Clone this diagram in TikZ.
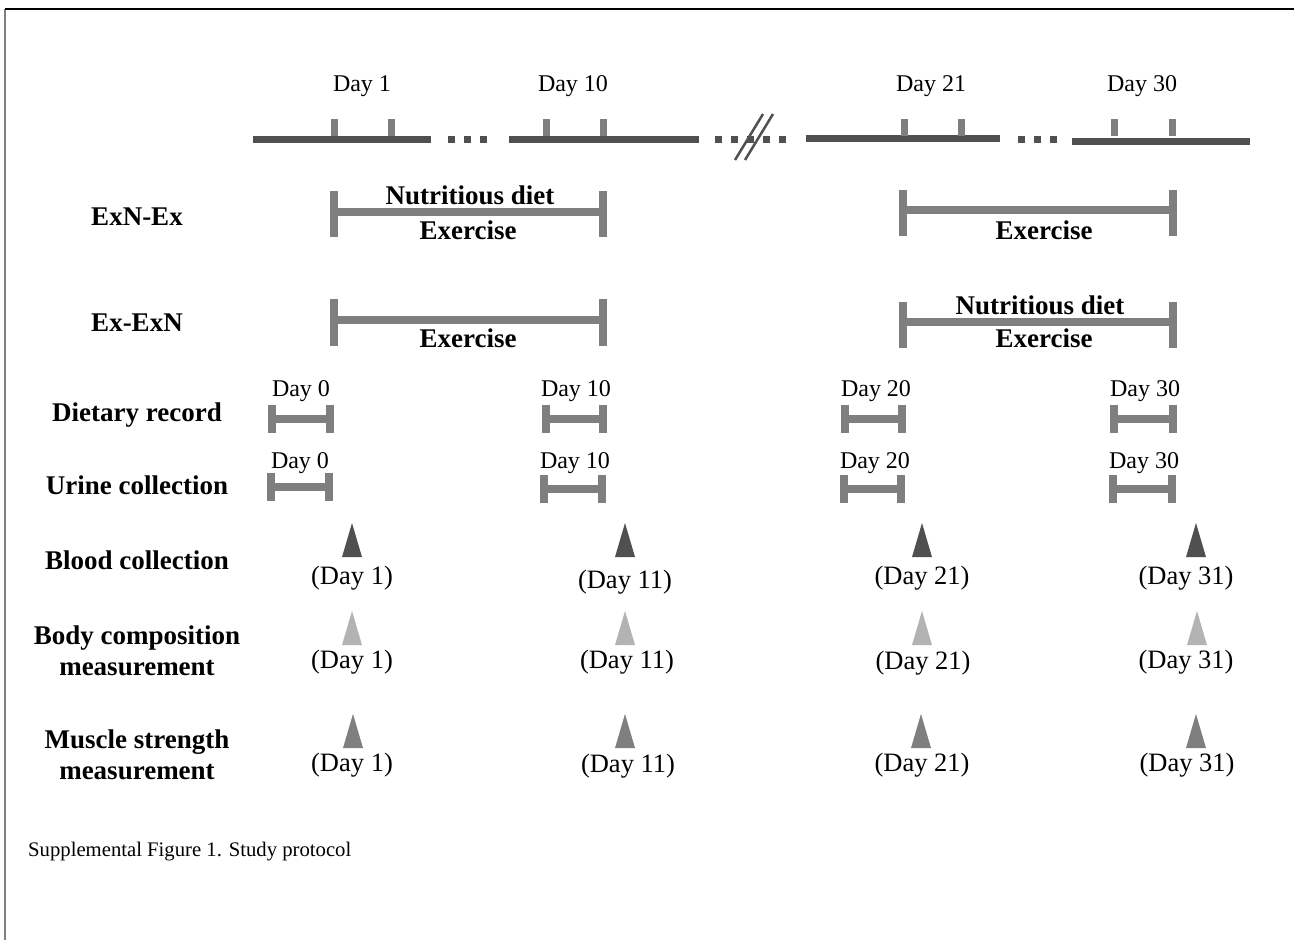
\documentclass[tikz,border=0pt]{standalone}
\usepackage{fontspec}
\setmainfont{Liberation Serif}
\definecolor{tldark}{HTML}{505050}
\definecolor{bargray}{HTML}{7F7F7F}
\definecolor{trilight}{HTML}{B3B3B3}
\tikzset{
  daytxt/.style={font=\fontsize{24}{28}\selectfont, inner sep=0pt},
  partxt/.style={font=\fontsize{26.5}{30}\selectfont, inner sep=0pt},
  rowtxt/.style={font=\bfseries\fontsize{27}{31}\selectfont, align=center, inner sep=0pt},
  tline/.style={draw=tldark, line width=7pt},
  tdots/.style={draw=tldark, line width=7pt, dash pattern=on 7pt off 9pt},
  tick/.style={draw=bargray, line width=7pt},
  brk/.style={draw=bargray, line width=7.5pt}
}
\begin{document}
\begin{tikzpicture}[x=1pt,y=-1pt]
  \useasboundingbox (0,0) rectangle (1294,940);
  % page frame
  \draw[gray, line width=2pt] (5,9) -- (5,940);
  \draw[black, line width=1.5pt] (5,9) -- (1294,9);

  % time line
  \draw[tline] (253,139) -- (431,139);
  \draw[tdots] (448,139) -- (488,139);
  \draw[tline] (509,139) -- (699,139);
  \draw[tdots] (715,139) -- (786,139);
  \draw[tldark, line width=2.5pt] (735,160) -- (763,114) (745,160) -- (773,114);
  \draw[tline] (806,138) -- (1000,138);
  \draw[tdots] (1018,139) -- (1058,139);
  \draw[tline] (1072,141) -- (1250,141);
  \foreach \x in {334,391,546,603,904,961,1114,1172}
    \draw[tick] (\x,119) -- (\x,136);
  \node[daytxt] (t1) at (362,86) {Day 1};
  \node[daytxt] (t10) at (573,86) {Day 10};
  \node[daytxt] (t21) at (931,86) {Day 21};
  \node[daytxt] (t30) at (1142,86) {Day 30};

  % groups
  \node[rowtxt] (exnex) at (137,217) {ExN-Ex};
  \node[rowtxt] (exexn) at (137,323) {Ex-ExN};
  \draw[brk] (334,191) -- (334,237) (334,212) -- (603,212) (603,191) -- (603,237);
  \draw[brk] (903,190) -- (903,236) (903,210) -- (1173,210) (1173,190) -- (1173,236);
  \draw[brk] (334,299) -- (334,346) (334,320) -- (603,320) (603,299) -- (603,346);
  \draw[brk] (903,302) -- (903,348) (903,322) -- (1173,322) (1173,302) -- (1173,348);
  \node[rowtxt] (nd1) at (470,195) {Nutritious diet};
  \node[rowtxt] (ex1) at (468,230) {Exercise};
  \node[rowtxt] (ex2) at (1044,230) {Exercise};
  \node[rowtxt] (ex3) at (468,338) {Exercise};
  \node[rowtxt] (nd4) at (1040,305) {Nutritious diet};
  \node[rowtxt] (ex4) at (1044,338) {Exercise};

  % records
  \node[rowtxt] (diet) at (137,415) {Dietary record};
  \node[rowtxt] (urine) at (137,485) {Urine collection};
  \foreach \a/\b/\y in {272/330/419, 546/603/419, 845/902/419, 1114/1173/419,
                        271/329/487, 544/602/489, 844/901/489, 1113/1172/489}
    \draw[brk] (\a,{\y-14}) -- (\a,{\y+14}) (\a,\y) -- (\b,\y) (\b,{\y-14}) -- (\b,{\y+14});
  \node[daytxt] (r0) at (301,391) {Day 0};
  \node[daytxt] (r10) at (576,391) {Day 10};
  \node[daytxt] (r20) at (876,391) {Day 20};
  \node[daytxt] (r30) at (1145,391) {Day 30};
  \node[daytxt] (u0) at (300,463) {Day 0};
  \node[daytxt] (u10) at (575,463) {Day 10};
  \node[daytxt] (u20) at (875,463) {Day 20};
  \node[daytxt] (u30) at (1144,463) {Day 30};

  % measurements
  \node[rowtxt] (blood) at (137,560) {Blood collection};
  \node[rowtxt] (body) at (137,651) {Body composition\\measurement};
  \node[rowtxt] (muscle) at (137,755) {Muscle strength\\measurement};
  \foreach \x/\y/\c in {352/523/tldark, 625/523/tldark, 922/523/tldark, 1196/523/tldark,
                        352/611/trilight, 625/611/trilight, 922/611/trilight, 1197/611/trilight,
                        353/714/bargray, 625/714/bargray, 921/714/bargray, 1196/714/bargray}
    \fill[\c] ({\x-10},{\y+34}) -- (\x,\y) -- ({\x+10},{\y+34}) -- cycle;
  \node[partxt] (b1) at (352,578) {(Day 1)};
  \node[partxt] (b11) at (625,582) {(Day 11)};
  \node[partxt] (b21) at (922,578) {(Day 21)};
  \node[partxt] (b31) at (1186,578) {(Day 31)};
  \node[partxt] (c1) at (352,662) {(Day 1)};
  \node[partxt] (c11) at (627,662) {(Day 11)};
  \node[partxt] (c21) at (923,663) {(Day 21)};
  \node[partxt] (c31) at (1186,662) {(Day 31)};
  \node[partxt] (m1) at (352,765) {(Day 1)};
  \node[partxt] (m11) at (628,766) {(Day 11)};
  \node[partxt] (m21) at (922,765) {(Day 21)};
  \node[partxt] (m31) at (1187,765) {(Day 31)};

  \node[font=\fontsize{20.7}{24}\selectfont, inner sep=0pt, anchor=west] (cap) at (28,852)
    {Supplemental Figure 1. Study protocol};
\end{tikzpicture}
\end{document}
